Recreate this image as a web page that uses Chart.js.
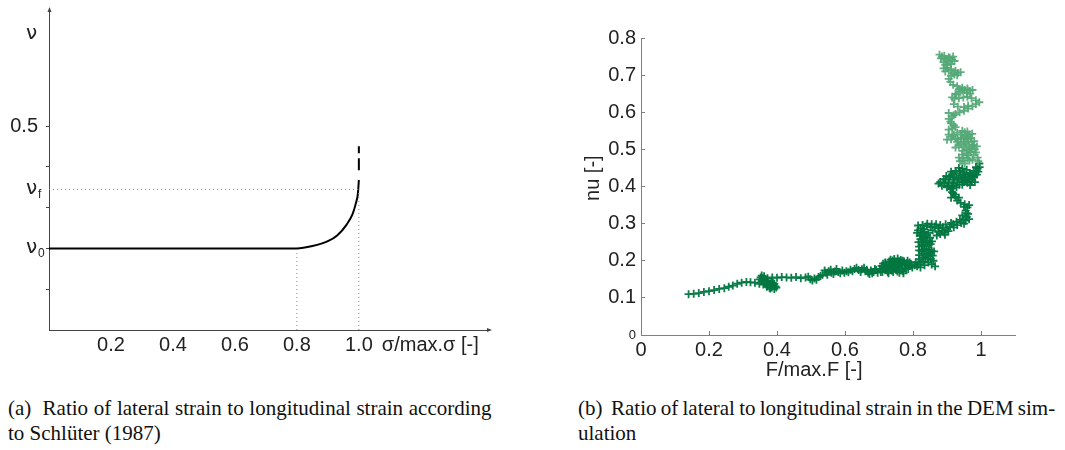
<!DOCTYPE html>
<html>
<head>
<meta charset="utf-8">
<script src="https://cdn.jsdelivr.net/npm/chart.js@4.4.1/dist/chart.umd.min.js"></script>
<style>
  html, body { margin: 0; padding: 0; background: #fff; }
  body { width: 1065px; height: 450px; position: relative; overflow: hidden; }
  #wrapA { position: absolute; left: 0; top: 0; width: 520px; height: 380px; }
  #wrapB { position: absolute; left: 560px; top: 0; width: 505px; height: 390px; }
  .cap { position: absolute; font-family: "Liberation Serif", "Times New Roman", serif; font-size: 21px; line-height: 25px; color: #111; white-space: nowrap; }
  #capA { left: 8px; top: 396px; }
  #capB { left: 578px; top: 396px; }
</style>
</head>
<body>
<div id="wrapA"><canvas id="chartA" width="520" height="380"></canvas></div>
<div id="wrapB"><canvas id="chartB" width="505" height="390"></canvas></div>
<div class="cap" id="capA"><span style="word-spacing:0.4px">(a)&nbsp; Ratio of lateral strain to longitudinal strain according</span><br>to Schlüter (1987)</div>
<div class="cap" id="capB"><span style="word-spacing:-1px">(b)&nbsp; Ratio of lateral to longitudinal strain in the DEM sim-</span><br>ulation</div>
<script>
// ---------- Panel (a): Schlüter (1987) ----------
const curveSigma = [0, 0.8, 0.85, 0.9, 0.93, 0.96, 0.98, 0.99, 0.997, 1.0];
const curveNu    = [0.2, 0.2, 0.206, 0.218, 0.232, 0.258, 0.285, 0.31, 0.335, 0.368];
const dashSigma  = [1.0, 1.0];
const dashNu     = [0.392, 0.451];
const nu0 = 0.2;
const nuF = 0.345;
const nuTop = 0.723;
const sigmaKnee = 0.8;
const sigmaMax = 1.0;
const xTicksA = [0.2, 0.4, 0.6, 0.8, 1.0];
const xLabelsA = ['0.2', '0.4', '0.6', '0.8', '1.0'];
const yTicksA = [0.1, 0.2, 0.3, 0.4, 0.5];
const xTitleA = 'σ/max.σ [-]';

// ---------- Panel (b): DEM simulation ----------
const demDarkX = [
  0.140,0.155,0.170,0.185,0.200,0.215,0.230,0.245,0.258,0.270,0.283,0.296,0.310,0.322,0.335,0.348,0.360,
  0.372,0.385,0.395,0.380,0.368,0.358,0.352,0.362,0.375,0.390,0.378,0.365,0.355,
  0.355,0.362,0.370,0.383,0.392,0.398,0.386,0.374,0.364,0.350,0.358,0.380,0.392,0.370,0.388,
  0.372,0.386,0.400,0.414,0.428,0.442,0.456,0.470,0.484,0.498,0.510,0.522,0.534,0.544,0.552,0.560,0.570,0.580,0.592,0.604,0.616,0.628,0.640,0.650,0.660,0.668,0.676,0.684,0.692,
  0.540,0.548,0.558,0.566,0.575,0.586,0.598,0.610,0.622,0.634,0.646,0.656,0.664,0.672,0.680,0.688,0.696,0.492,0.504,0.516,0.528,
  0.702,0.712,0.720,0.728,0.735,0.742,0.750,0.758,0.766,0.774,0.782,0.788,0.780,0.770,0.760,0.748,0.738,0.730,0.740,0.752,0.764,0.720,0.710,0.795,0.805,
  0.705,0.708,0.715,0.718,0.724,0.726,0.732,0.734,0.738,0.744,0.746,0.754,0.756,0.760,0.762,0.768,0.770,0.776,0.778,0.784,0.786,0.790,0.745,0.755,0.728,0.772,0.712,0.798,
  0.812,0.822,0.834,0.845,0.852,0.858,0.850,0.840,0.828,0.818,0.825,0.835,0.845,0.838,0.828,0.818,0.822,0.832,0.842,0.850,0.840,0.828,0.820,0.815,
  0.808,0.815,0.818,0.822,0.826,0.830,0.832,0.836,0.840,0.843,0.846,0.848,0.852,0.855,0.860,0.862,0.856,0.848,0.832,0.826,0.816,0.818,0.824,0.834,0.836,0.845,0.812,0.822,0.832,0.815,0.842,0.855,0.865,0.855,
  0.828,0.840,0.852,0.864,0.876,0.886,0.880,0.870,0.892,0.900,0.908,0.918,0.928,0.938,0.948,0.958,0.962,0.955,0.960,0.952,0.940,0.930,0.925,0.918,0.910,0.905,
  0.858,0.868,0.874,0.880,0.888,0.894,0.896,0.904,0.912,0.920,0.930,0.942,0.950,0.955,0.965,0.945,0.958,0.950,0.965,0.935,0.922,0.915,0.912,
  0.892,0.880,0.895,0.906,0.918,0.930,0.942,0.954,0.966,0.976,0.984,0.990,0.978,0.966,0.952,0.940,0.928,0.916,0.905,0.915,0.928,0.945,0.960,0.972,0.985,0.995,
  0.885,0.890,0.898,0.900,0.910,0.912,0.920,0.922,0.925,0.934,0.936,0.938,0.946,0.948,0.950,0.956,0.958,0.962,0.968,0.970,0.974,0.980,0.982,0.988,0.992,0.996,0.875,0.915,0.935,0.945
];
const demDarkY = [
  0.110,0.111,0.113,0.116,0.118,0.121,0.124,0.126,0.130,0.133,0.138,0.141,0.143,0.142,0.141,0.138,0.136,
  0.132,0.128,0.131,0.138,0.142,0.148,0.155,0.152,0.140,0.135,0.127,0.150,0.145,
  0.160,0.158,0.146,0.143,0.138,0.128,0.133,0.135,0.139,0.150,0.153,0.125,0.124,0.130,0.140,
  0.153,0.155,0.154,0.156,0.155,0.154,0.156,0.153,0.155,0.150,0.152,0.156,0.162,0.168,0.172,0.168,0.171,0.170,0.174,0.172,0.176,0.178,0.175,0.177,0.172,0.168,0.174,0.170,0.175,
  0.174,0.162,0.176,0.164,0.178,0.166,0.168,0.169,0.172,0.181,0.170,0.181,0.176,0.164,0.166,0.178,0.168,0.157,0.147,0.149,0.159,
  0.178,0.183,0.190,0.186,0.178,0.170,0.176,0.184,0.192,0.198,0.193,0.186,0.178,0.172,0.168,0.182,0.192,0.198,0.201,0.196,0.202,0.175,0.170,0.190,0.188,
  0.170,0.186,0.177,0.195,0.182,0.170,0.190,0.203,0.174,0.186,0.196,0.171,0.190,0.198,0.176,0.186,0.200,0.180,0.190,0.200,0.178,0.195,0.205,0.206,0.166,0.166,0.192,0.182,
  0.185,0.182,0.188,0.195,0.205,0.214,0.222,0.218,0.210,0.204,0.225,0.232,0.240,0.250,0.245,0.238,0.258,0.262,0.255,0.262,0.270,0.274,0.268,0.282,
  0.196,0.190,0.215,0.195,0.230,0.198,0.220,0.208,0.228,0.205,0.212,0.230,0.245,0.226,0.200,0.225,0.252,0.250,0.240,0.252,0.250,0.228,0.268,0.278,0.265,0.275,0.275,0.288,0.285,0.295,0.300,0.298,0.185,0.190,
  0.296,0.293,0.290,0.292,0.288,0.282,0.272,0.268,0.276,0.285,0.292,0.298,0.305,0.310,0.312,0.318,0.326,0.335,0.344,0.352,0.356,0.362,0.372,0.382,0.392,0.402,
  0.282,0.298,0.278,0.296,0.290,0.270,0.298,0.280,0.302,0.290,0.296,0.302,0.300,0.308,0.312,0.322,0.328,0.345,0.350,0.370,0.378,0.395,0.370,
  0.408,0.412,0.418,0.424,0.418,0.412,0.418,0.424,0.420,0.428,0.438,0.448,0.442,0.436,0.432,0.430,0.436,0.432,0.412,0.402,0.398,0.405,0.410,0.412,0.452,0.462,
  0.402,0.420,0.428,0.398,0.428,0.440,0.408,0.425,0.442,0.422,0.405,0.442,0.425,0.438,0.412,0.415,0.445,0.428,0.404,0.432,0.418,0.425,0.412,0.432,0.440,0.452,0.408,0.385,0.450,0.448
];
const demLightX = [
  0.992,0.975,0.960,0.945,0.935,0.945,0.958,0.970,0.982,0.975,0.965,0.972,0.962,0.950,0.940,0.930,0.942,0.955,0.966,0.952,0.940,0.925,0.912,0.900,0.915,0.930,0.965,0.978,
  0.938,0.948,0.952,0.962,0.966,0.972,0.978,0.985,0.988,0.980,0.970,0.958,0.950,0.945,0.955,0.960,0.948,0.935,0.925,0.932,0.974,0.960,0.945,0.920,0.905,0.990,
  0.905,0.915,0.925,0.912,0.905,0.915,0.925,0.937,0.950,0.962,0.975,0.985,0.995,0.985,0.972,0.960,0.948,0.935,0.922,0.915,0.928,0.940,0.952,0.966,0.975,0.960,0.945,0.930,0.918,0.910,0.905,0.912,0.922,0.932,0.940,0.925,0.912,0.900,0.890,0.895,0.905,0.915,0.905,0.895,0.885,0.878,
  0.882,0.892,0.900,0.908,0.912,0.918,0.922,0.900,0.890,0.895,0.905,0.918,0.930,0.945,0.958,0.935,0.925,0.968,0.920,0.932,0.950,0.962,0.905,0.920,0.910,0.920
];
const demLightY = [
  0.468,0.472,0.476,0.470,0.478,0.486,0.490,0.494,0.500,0.508,0.512,0.520,0.526,0.520,0.514,0.520,0.530,0.536,0.540,0.546,0.540,0.530,0.527,0.526,0.535,0.545,0.500,0.485,
  0.468,0.478,0.462,0.484,0.470,0.502,0.512,0.492,0.508,0.522,0.530,0.500,0.506,0.496,0.516,0.532,0.530,0.510,0.505,0.526,0.542,0.548,0.550,0.540,0.540,0.478,
  0.553,0.556,0.560,0.570,0.582,0.588,0.595,0.600,0.604,0.610,0.616,0.622,0.627,0.632,0.638,0.642,0.640,0.638,0.636,0.640,0.648,0.655,0.660,0.658,0.660,0.664,0.666,0.670,0.674,0.682,0.690,0.698,0.702,0.706,0.708,0.712,0.716,0.720,0.718,0.728,0.736,0.742,0.748,0.744,0.750,0.755,
  0.745,0.752,0.740,0.746,0.730,0.750,0.738,0.728,0.735,0.710,0.712,0.705,0.700,0.660,0.652,0.662,0.650,0.650,0.622,0.615,0.614,0.618,0.598,0.592,0.575,0.565
];
const xTicksB = [0, 0.2, 0.4, 0.6, 0.8, 1];
const xLabelsB = ['0', '0.2', '0.4', '0.6', '0.8', '1'];
const yTicksB = [0, 0.1, 0.2, 0.3, 0.4, 0.5, 0.6, 0.7, 0.8];
const yLabelsB = ['0', '0.1', '0.2', '0.3', '0.4', '0.5', '0.6', '0.7', '0.8'];
const xTitleB = 'F/max.F [-]';
const yTitleB = 'nu [-]';

const SANS = '"Liberation Sans", Arial, sans-serif';
const GREEK = '"DejaVu Sans", "Liberation Sans", sans-serif';
Chart.defaults.font.family = SANS;
Chart.defaults.animation = false;

function pts(xs, ys) { return xs.map((x, i) => ({ x: x, y: ys[i] })); }

// Plugin for panel (a): symbolic y labels, axis unit text, arrowheads
const panelAExtras = {
  id: 'panelAExtras',
  afterDraw(chart) {
    const ctx = chart.ctx;
    const xs = chart.scales.x, ys = chart.scales.y;
    const ax = xs.left, ay = ys.bottom;
    ctx.save();
    ctx.fillStyle = '#222';
    ctx.font = '20px ' + SANS;
    ctx.textAlign = 'right';
    ctx.textBaseline = 'middle';
    ctx.fillText('0.5', 38, ys.getPixelForValue(0.5));
    const nuX = 26;
    function nu(v, sub) {
      const py = ys.getPixelForValue(v);
      ctx.font = '20px ' + GREEK;
      ctx.textAlign = 'left';
      ctx.textBaseline = 'middle';
      ctx.fillText('ν', nuX, py - 1);
      if (sub) {
        ctx.font = '12px ' + SANS;
        ctx.fillText(sub, nuX + 12, py + 5);
      }
    }
    nu(nuTop, null);
    nu(nuF, 'f');
    nu(nu0, '0');
    ctx.font = '20px ' + SANS;
    ctx.textAlign = 'left';
    ctx.textBaseline = 'middle';
    ctx.fillText(xTitleA, xs.getPixelForValue(sigmaMax) + 23, xs.top + 3 + 12);
    ctx.fillStyle = '#444';
    ctx.beginPath();
    ctx.moveTo(ax + 0.5, ys.top - 3);
    ctx.lineTo(ax - 1.5, ys.top + 2);
    ctx.lineTo(ax + 2.5, ys.top + 2);
    ctx.closePath(); ctx.fill();
    ctx.beginPath();
    ctx.moveTo(xs.right + 3, ay);
    ctx.lineTo(xs.right - 2, ay - 2);
    ctx.lineTo(xs.right - 2, ay + 2);
    ctx.closePath(); ctx.fill();
    ctx.restore();
  }
};

const dotted = { borderColor: '#8a8a8a', borderWidth: 1, borderDash: [1, 3], pointRadius: 0, fill: false };

new Chart(document.getElementById('chartA'), {
  type: 'line',
  data: {
    datasets: [
      Object.assign({ data: pts([0, sigmaMax], [nuF, nuF]) }, dotted),
      Object.assign({ data: pts([sigmaKnee, sigmaKnee], [0, nu0]) }, dotted),
      Object.assign({ data: pts([sigmaMax, sigmaMax], [0, nuF]) }, dotted),
      { data: pts(curveSigma, curveNu), borderColor: '#000', borderWidth: 2, pointRadius: 0, cubicInterpolationMode: 'monotone', fill: false },
      { data: pts(dashSigma, dashNu), borderColor: '#000', borderWidth: 2, borderDash: [12, 5], pointRadius: 0, fill: false }
    ]
  },
  options: {
    responsive: false,
    maintainAspectRatio: false,
    layout: { padding: { top: 10, right: 31, left: 0, bottom: 0 } },
    plugins: { legend: { display: false }, tooltip: { enabled: false } },
    scales: {
      x: {
        type: 'linear', min: 0, max: 1.42,
        afterBuildTicks: s => { s.ticks = xTicksA.map(v => ({ value: v })); },
        afterFit: s => { s.height = 50; },
        ticks: { callback: (v, i) => xLabelsA[i], font: { size: 20 }, color: '#222', padding: 3, maxRotation: 0, autoSkip: false },
        grid: { drawOnChartArea: false, drawTicks: false },
        border: { color: '#444', width: 1 }
      },
      y: {
        type: 'linear', min: 0, max: 0.785,
        afterBuildTicks: s => { s.ticks = yTicksA.map(v => ({ value: v })); },
        afterFit: s => { s.width = 49; },
        ticks: { display: false },
        grid: { drawOnChartArea: false, drawTicks: true, tickLength: 3, tickColor: '#444' },
        border: { color: '#444', width: 1 }
      }
    }
  },
  plugins: [panelAExtras]
});

new Chart(document.getElementById('chartB'), {
  type: 'scatter',
  data: {
    datasets: [
      { data: pts(demLightX, demLightY), pointStyle: 'cross', pointRadius: 4, borderWidth: 1.8, borderColor: 'rgba(84,168,118,0.92)', backgroundColor: 'rgba(84,168,118,0.92)' },
      { data: pts(demDarkX, demDarkY), pointStyle: 'cross', pointRadius: 4, borderWidth: 1.8, borderColor: 'rgba(0,118,64,0.95)', backgroundColor: 'rgba(0,118,64,0.95)' }
    ]
  },
  options: {
    responsive: false,
    maintainAspectRatio: false,
    layout: { padding: { top: 38, right: 50, left: 0, bottom: 0 } },
    plugins: { legend: { display: false }, tooltip: { enabled: false } },
    scales: {
      x: {
        type: 'linear', min: 0, max: 1.1,
        afterBuildTicks: s => { s.ticks = xTicksB.map(v => ({ value: v })); },
        afterFit: s => { s.height = 55; },
        ticks: { callback: (v, i) => xLabelsB[i], font: { size: 20 }, color: '#222', padding: 7, maxRotation: 0, autoSkip: false },
        grid: { drawOnChartArea: false, drawTicks: true, tickLength: -4, tickColor: '#808080' },
        border: { color: '#808080', width: 1 },
        title: { display: true, text: xTitleB + '     ', font: { size: 20 }, color: '#222', padding: { top: 0, bottom: 8 } }
      },
      y: {
        type: 'linear', min: 0, max: 0.8,
        afterBuildTicks: s => { s.ticks = yTicksB.map(v => ({ value: v })); },
        afterFit: s => { s.width = 81; },
        ticks: {
          callback: (v, i) => yLabelsB[i],
          font: c => (c.tick && c.tick.value === 0) ? { size: 13 } : { size: 20 },
          color: '#222', padding: 9, autoSkip: false
        },
        grid: { drawOnChartArea: false, drawTicks: true, tickLength: -4, tickColor: '#808080' },
        border: { color: '#808080', width: 1 },
        title: { display: true, text: '   ' + yTitleB, font: { size: 20 }, color: '#222', padding: { top: 21, bottom: 0 } }
      }
    }
  }
});
</script>
</body>
</html>
